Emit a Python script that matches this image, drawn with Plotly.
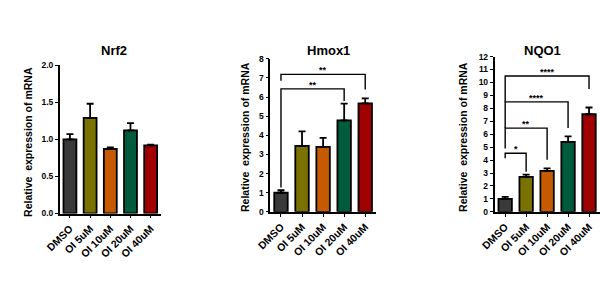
import plotly.graph_objects as go

categories = ["DMSO", "OI 5uM", "OI 10uM", "OI 20uM", "OI 40uM"]
colors = ["#3a3a3a", "#7a7200", "#c65a00", "#005a3c", "#a00000"]

titles = ["Nrf2", "Hmox1", "NQO1"]
nrf2_mean = [1.00, 1.29, 0.87, 1.12, 0.92]
nrf2_err = [0.07, 0.19, 0.02, 0.10, 0.01]
hmox1_mean = [1.00, 3.45, 3.40, 4.78, 5.67]
hmox1_err = [0.13, 0.76, 0.47, 0.88, 0.26]
nqo1_mean = [1.00, 2.71, 3.16, 5.40, 7.54]
nqo1_err = [0.16, 0.17, 0.20, 0.43, 0.52]

y_max = [2.0, 8, 12]
y_dtick = [0.5, 1, 1]
y_tickformat = [".1f", "d", "d"]

# brackets: (i0, i1, y, left_bottom, right_bottom, label)
hmox1_brackets = [(0, 4, 7.19, 6.85, 6.40, "**"),
                  (0, 3, 6.43, 1.28, 5.79, "**")]
nqo1_brackets = [(0, 4, 10.5, 8.5, 9.5, "****"),
                 (0, 3, 8.5, 6.47, 6.47, "****"),
                 (0, 2, 6.47, 4.9, 4.03, "**"),
                 (0, 1, 4.53, 4.15, 3.10, "*")]

means = [nrf2_mean, hmox1_mean, nqo1_mean]
errs = [nrf2_err, hmox1_err, nqo1_err]
brackets = [[], hmox1_brackets, nqo1_brackets]

x_domains = [[46 / 600, 149.5 / 600], [262 / 600, 370 / 600], [492 / 600, 599.5 / 600]]
y_domains = [[1 - 215.7 / 300, 1 - 62.3 / 300], [1 - 214 / 300, 1 - 55.7 / 300], [1 - 214 / 300, 1 - 53.3 / 300]]
ytitle_x = [14 / 600, 236.5 / 600, 460 / 600]
ytitle_y = [1 - 142 / 300, 1 - 137 / 300, 1 - 137 / 300]
title_x = [101.5 / 600, 321.5 / 600, 541.5 / 600]

FONT = "Liberation Sans, Arial, sans-serif"
fig = go.Figure()
xs = list(range(len(categories)))
annotations = []
layout = {}

for k in range(3):
    sfx = "" if k == 0 else str(k + 1)
    xa, ya = "x" + sfx, "y" + sfx
    fig.add_trace(go.Bar(
        x=xs, y=means[k], xaxis=xa, yaxis=ya,
        marker=dict(color=colors, line=dict(color="black", width=1.8)),
        width=0.64,
        error_y=dict(type="data", symmetric=False, array=errs[k],
                     arrayminus=[0] * 5, color="black", thickness=1.8, width=3.5),
        showlegend=False, hoverinfo="skip"))
    for (i0, i1, yb, lb, rb, lab) in brackets[k]:
        fig.add_trace(go.Scatter(
            x=[i0, i0, i1, i1], y=[lb, yb, yb, rb], xaxis=xa, yaxis=ya,
            mode="lines", line=dict(color="black", width=1.4),
            showlegend=False, hoverinfo="skip"))
        annotations.append(dict(
            x=(i0 + i1) / 2, y=yb, xref=xa, yref=ya, text=lab, showarrow=False,
            yanchor="bottom", yshift=-3,
            font=dict(family=FONT, size=9, color="black", weight="bold")))
    layout["xaxis" + sfx] = dict(
        domain=x_domains[k], anchor=ya, range=[-0.5, 4.5],
        tickmode="array", tickvals=xs, ticktext=categories, tickangle=-45,
        showline=True, linecolor="black", linewidth=1.8,
        ticks="outside", ticklen=3, tickwidth=1.4, tickcolor="black",
        showgrid=False, zeroline=False, fixedrange=True,
        tickfont=dict(family=FONT, size=10.5, color="black", weight="bold"))
    layout["yaxis" + sfx] = dict(
        domain=y_domains[k], anchor=xa, range=[0, y_max[k]],
        dtick=y_dtick[k], tick0=0, tickformat=y_tickformat[k],
        showline=True, linecolor="black", linewidth=1.8,
        ticks="outside", ticklen=3, tickwidth=1.4, tickcolor="black",
        showgrid=False, zeroline=False, fixedrange=True,
        tickfont=dict(family=FONT, size=8.5, color="black", weight="bold"))
    annotations.append(dict(
        x=title_x[k], y=1 - 47 / 300, xref="paper", yref="paper", text=titles[k],
        showarrow=False, xanchor="center", yanchor="middle",
        font=dict(family=FONT, size=13, color="black", weight="bold")))
    annotations.append(dict(
        x=ytitle_x[k], y=ytitle_y[k], xref="paper", yref="paper",
        text="Relative  expression of mRNA", textangle=-90,
        showarrow=False, xanchor="center", yanchor="middle",
        font=dict(family=FONT, size=10.5, color="black", weight="bold")))

fig.update_layout(
    width=600, height=300, margin=dict(l=0, r=0, t=0, b=0),
    paper_bgcolor="white", plot_bgcolor="white",
    annotations=annotations, bargap=0.36, **layout)

fig.write_html("out.html")
